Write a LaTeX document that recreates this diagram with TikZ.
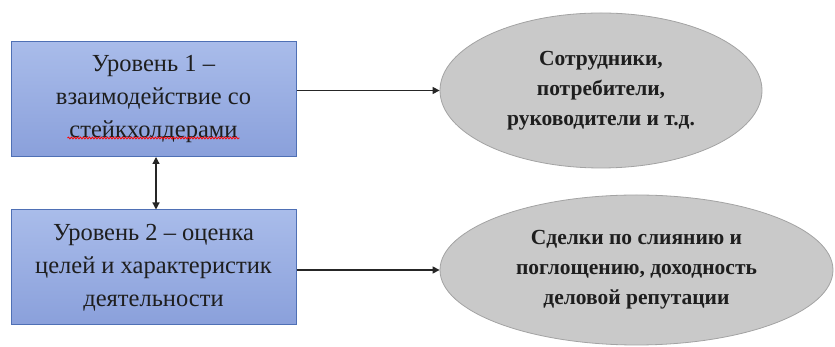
\documentclass[tikz,border=0pt]{standalone}
\usepackage{fontspec}
\setmainfont{Liberation Serif}
\usetikzlibrary{shapes.geometric,arrows.meta,decorations.pathmorphing}
\definecolor{boxtop}{HTML}{A9BCEA}
\definecolor{boxbot}{HTML}{8AA0DB}
\definecolor{boxline}{HTML}{4F70B5}
\definecolor{ellfill}{HTML}{C9C9C9}
\definecolor{ellline}{HTML}{A3A3A3}
\definecolor{txt}{HTML}{1E1E1E}
\tikzset{
  levelbox/.style={draw=boxline, line width=1pt, top color=boxtop, bottom color=boxbot,
    minimum width=285pt, minimum height=115pt, inner sep=0pt, align=center,
    font=\fontsize{24.5}{33}\selectfont, text=txt},
  oval/.style={ellipse, draw=ellline, line width=0.8pt, fill=ellfill, inner sep=0pt, align=center,
    font=\fontsize{21.5}{30}\selectfont\bfseries, text=txt},
  conn/.style={line width=1.2pt, draw=black!85, -{Triangle[length=7pt,width=7pt]}},
  biconn/.style={line width=1.2pt, draw=black!85, {Triangle[length=7pt,width=7pt]}-{Triangle[length=7pt,width=7pt]}}
}
\begin{document}
\begin{tikzpicture}[x=1pt,y=1pt]
\useasboundingbox (0,0) rectangle (835,347);
\node[levelbox] (b1) at (153.5,248) {Уровень 1 --\\взаимодействие со\\стейкхолдерами};
\node[levelbox] (b2) at (153.5,79.5) {Уровень 2 -- оценка\\целей и характеристик\\деятельности};
\node[oval, minimum width=322pt, minimum height=155pt] (e1) at (601,256.5) {Сотрудники,\\потребители,\\руководители и т.д.};
\node[oval, minimum width=393pt, minimum height=150pt] (e2) at (636.5,77) {Сделки по слиянию и\\поглощению, доходность\\деловой репутации};
\coordinate (u1) at ([xshift=-86pt,yshift=-39pt]b1.center);
\coordinate (u2) at ([xshift=86pt,yshift=-39pt]b1.center);
\draw[red, line width=0.8pt, decorate, decoration={snake, amplitude=0.9pt, segment length=3pt}] (u1) -- (u2);
\draw[conn] (b1.east |- e1.west) -- (e1.west);
\draw[conn] (b2.east |- e2.west) -- (e2.west);
\draw[biconn] ([xshift=2.5pt]b1.south) -- ([xshift=2.5pt]b2.north);
\end{tikzpicture}
\end{document}
